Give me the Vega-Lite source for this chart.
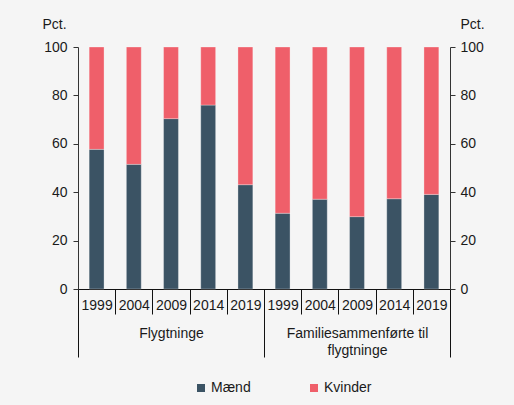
{
  "$schema": "https://vega.github.io/schema/vega-lite/v6.json",
  "width": 372,
  "height": 242,
  "autosize": {"type": "none"},
  "padding": {"left": 78, "top": 47, "right": 64, "bottom": 116},
  "background": "#f5f5f5",
  "config": {
    "view": {"stroke": null},
    "font": "Liberation Sans",
    "axis": {"labelFont": "Liberation Sans", "titleFont": "Liberation Sans", "labelFontSize": 14, "titleFontSize": 14, "labelColor": "#1a1a1a", "titleColor": "#1a1a1a", "titleFontWeight": "normal", "domainColor": "#333333", "tickColor": "#333333", "grid": false}
  },
  "data": {
    "values": [
      {"key": "F|1999", "group": "Flygtninge", "sex": "Mænd", "value": 57.7},
      {"key": "F|1999", "group": "Flygtninge", "sex": "Kvinder", "value": 42.3},
      {"key": "F|2004", "group": "Flygtninge", "sex": "Mænd", "value": 51.5},
      {"key": "F|2004", "group": "Flygtninge", "sex": "Kvinder", "value": 48.5},
      {"key": "F|2009", "group": "Flygtninge", "sex": "Mænd", "value": 70.4},
      {"key": "F|2009", "group": "Flygtninge", "sex": "Kvinder", "value": 29.6},
      {"key": "F|2014", "group": "Flygtninge", "sex": "Mænd", "value": 76.0},
      {"key": "F|2014", "group": "Flygtninge", "sex": "Kvinder", "value": 24.0},
      {"key": "F|2019", "group": "Flygtninge", "sex": "Mænd", "value": 43.1},
      {"key": "F|2019", "group": "Flygtninge", "sex": "Kvinder", "value": 56.9},
      {"key": "G|1999", "group": "Familiesammenførte til|flygtninge", "sex": "Mænd", "value": 31.3},
      {"key": "G|1999", "group": "Familiesammenførte til|flygtninge", "sex": "Kvinder", "value": 68.7},
      {"key": "G|2004", "group": "Familiesammenførte til|flygtninge", "sex": "Mænd", "value": 37.1},
      {"key": "G|2004", "group": "Familiesammenførte til|flygtninge", "sex": "Kvinder", "value": 62.9},
      {"key": "G|2009", "group": "Familiesammenførte til|flygtninge", "sex": "Mænd", "value": 29.9},
      {"key": "G|2009", "group": "Familiesammenførte til|flygtninge", "sex": "Kvinder", "value": 70.1},
      {"key": "G|2014", "group": "Familiesammenførte til|flygtninge", "sex": "Mænd", "value": 37.3},
      {"key": "G|2014", "group": "Familiesammenførte til|flygtninge", "sex": "Kvinder", "value": 62.7},
      {"key": "G|2019", "group": "Familiesammenførte til|flygtninge", "sex": "Mænd", "value": 39.1},
      {"key": "G|2019", "group": "Familiesammenførte til|flygtninge", "sex": "Kvinder", "value": 60.9}
    ]
  },
  "layer": [
    {
      "mark": {"type": "bar", "width": {"band": 0.4}, "stroke": "#ffffff", "strokeWidth": 0.6, "strokeOpacity": 0.5},
      "encoding": {
        "x": {
          "field": "key", "type": "nominal", "sort": null,
          "scale": {"paddingInner": 0, "paddingOuter": 0},
          "axis": {"orient": "bottom", "title": null, "labelAngle": 0, "labelExpr": "split(datum.label, '|')[1]", "tickBand": "extent", "tickSize": 25, "labelPadding": -16, "labelBaseline": "top", "domainColor": "#111111", "tickColor": "#111111"}
        },
        "y": {
          "field": "value", "type": "quantitative", "stack": "zero",
          "scale": {"domain": [0, 100]},
          "axis": {"orient": "left", "values": [0, 20, 40, 60, 80, 100], "tickSize": 5, "labelPadding": 6, "title": "Pct.", "titleAngle": 0, "titleAlign": "left", "titleBaseline": "middle", "titleX": -36, "titleY": -23}
        },
        "color": {
          "field": "sex", "type": "nominal", "sort": ["Mænd", "Kvinder"],
          "scale": {"domain": ["Mænd", "Kvinder"], "range": ["#3b5364", "#ef5f6a"]},
          "legend": {"title": null, "orient": "none", "direction": "horizontal", "legendX": 116, "legendY": 334, "symbolType": "square", "symbolSize": 64, "symbolStrokeWidth": 0, "labelFontSize": 14, "labelFont": "Liberation Sans", "labelColor": "#1a1a1a", "columnPadding": 56, "labelOffset": 3}
        }
      }
    },
    {
      "mark": {"type": "point", "opacity": 0},
      "encoding": {
        "x": {
          "field": "group", "type": "nominal", "sort": null,
          "scale": {"paddingInner": 0, "paddingOuter": 0},
          "axis": {"orient": "bottom", "title": null, "labelAngle": 0, "labelExpr": "split(datum.label, '|')", "tickBand": "extent", "tickSize": 68, "domain": false, "labelPadding": -31, "labelBaseline": "top", "labelLineHeight": 17, "tickColor": "#111111"}
        },
        "y": {
          "field": "value", "type": "quantitative", "stack": null,
          "scale": {"domain": [0, 100]},
          "axis": {"orient": "right", "values": [0, 20, 40, 60, 80, 100], "tickSize": 5, "labelPadding": 5, "title": "Pct.", "titleAngle": 0, "titleAlign": "left", "titleBaseline": "middle", "titleX": 10, "titleY": -23}
        }
      }
    }
  ],
  "resolve": {"scale": {"x": "independent", "y": "independent"}, "axis": {"x": "independent", "y": "independent"}}
}
